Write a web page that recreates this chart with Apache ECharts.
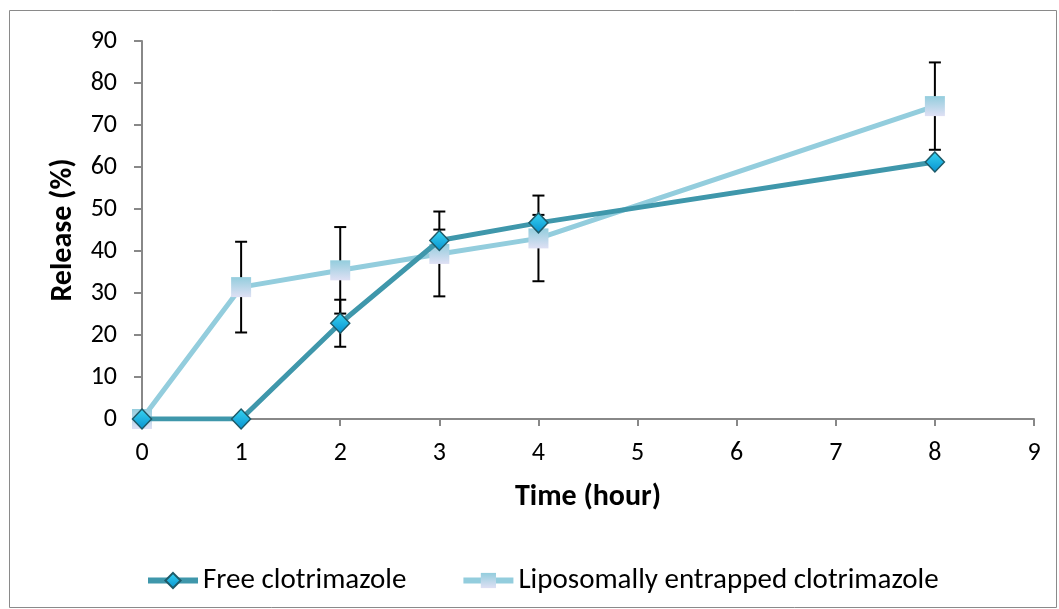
<!DOCTYPE html>
<html>
<head>
<meta charset="utf-8">
<script src="https://cdn.jsdelivr.net/npm/echarts@6/dist/echarts.min.js"></script>
<style>
html,body{margin:0;padding:0;background:#fff;}
#c{width:1059px;height:609px;}
</style>
</head>
<body>
<div id="c"></div>
<script>
var timeHours = [0, 1, 2, 3, 4, 8];
var freeRelease = [0, 0, 22.8, 42.5, 46.7, 61.2];
var freeError = [0, 0, 5.6, 2.6, 1.9, 0];
var lipoRelease = [0, 31.4, 35.4, 39.3, 43.0, 74.5];
var lipoError = [0, 10.8, 10.3, 10.1, 10.2, 10.4];
var seriesNames = ['Free clotrimazole', 'Liposomally entrapped clotrimazole'];
var xTicks = [0, 1, 2, 3, 4, 5, 6, 7, 8, 9];
var yTicks = [0, 10, 20, 30, 40, 50, 60, 70, 80, 90];

var FONT = "Carlito, Lato, 'Open Sans', sans-serif";

function pairs(xs, ys) { return xs.map(function (x, i) { return [x, ys[i]]; }); }
function errData(xs, ys, es) {
  var out = [];
  xs.forEach(function (x, i) { if (es[i] > 0) out.push([x, ys[i] - es[i], ys[i] + es[i]]); });
  return out;
}
function errRender(params, api) {
  var x = api.value(0);
  var lo = api.coord([x, api.value(1)]);
  var hi = api.coord([x, api.value(2)]);
  var w = 6;
  var st = { stroke: '#000', lineWidth: 2 };
  return {
    type: 'group',
    children: [
      { type: 'line', shape: { x1: lo[0], y1: lo[1], x2: hi[0], y2: hi[1] }, style: st },
      { type: 'line', shape: { x1: lo[0] - w, y1: lo[1], x2: lo[0] + w, y2: lo[1] }, style: st },
      { type: 'line', shape: { x1: hi[0] - w, y1: hi[1], x2: hi[0] + w, y2: hi[1] }, style: st }
    ]
  };
}

var diamondFill = new echarts.graphic.LinearGradient(0, 0, 0, 1, [
  { offset: 0, color: '#3ad6f2' }, { offset: 1, color: '#0690cf' }
]);
var squareFill = new echarts.graphic.LinearGradient(0, 0, 0, 1, [
  { offset: 0, color: '#93cddd' }, { offset: 1, color: '#dfe0f4' }
]);

var chart = echarts.init(document.getElementById('c'), null, { renderer: 'canvas' });
chart.setOption({
  animation: false,
  backgroundColor: '#fff',
  textStyle: { fontFamily: FONT },
  graphic: [{
    type: 'rect', silent: true, z: -10,
    shape: { x: 9.5, y: 10.5, width: 1047, height: 597 },
    style: { fill: 'none', stroke: '#8a8a8a', lineWidth: 1 }
  }],
  grid: { left: 142, right: 25, top: 41, bottom: 190, containLabel: false },
  legend: {
    left: 140, top: 561,
    itemWidth: 50, itemHeight: 19, itemGap: 54,
    lineStyle: { width: 6 },
    textStyle: { fontFamily: FONT, fontSize: 29, color: '#000' },
    data: seriesNames
  },
  xAxis: {
    type: 'value', min: 0, max: 9, interval: 1,
    name: 'Time (hour)', nameLocation: 'middle', nameGap: 63,
    nameTextStyle: { fontFamily: FONT, fontSize: 30, fontWeight: 'bold', color: '#000' },
    axisLine: { show: true, lineStyle: { color: '#888', width: 2 } },
    axisTick: { show: true, inside: false, length: 7, lineStyle: { color: '#888', width: 2 } },
    axisLabel: { fontFamily: FONT, fontSize: 26, color: '#000', margin: 21,
      formatter: function (v) { return xTicks.indexOf(v) >= 0 ? String(v) : ''; } },
    splitLine: { show: false }
  },
  yAxis: {
    type: 'value', min: 0, max: 90, interval: 10,
    name: 'Release (%)', nameLocation: 'middle', nameGap: 64, nameRotate: 90,
    nameTextStyle: { fontFamily: FONT, fontSize: 30, fontWeight: 'bold', color: '#000' },
    axisLine: { show: true, lineStyle: { color: '#888', width: 2 } },
    axisTick: { show: true, inside: false, length: 8, lineStyle: { color: '#888', width: 2 } },
    axisLabel: { fontFamily: FONT, fontSize: 26, color: '#000', margin: 25,
      formatter: function (v) { return yTicks.indexOf(v) >= 0 ? String(v) : ''; } },
    splitLine: { show: false }
  },
  series: [
    {
      name: seriesNames[1], type: 'line', z: 3,
      data: pairs(timeHours, lipoRelease),
      symbol: 'rect', symbolSize: 20,
      lineStyle: { color: '#93cddd', width: 5 },
      itemStyle: { color: squareFill, borderWidth: 0 }
    },
    {
      name: seriesNames[0], type: 'line', z: 4,
      data: pairs(timeHours, freeRelease),
      symbol: 'diamond', symbolSize: [19, 20],
      lineStyle: { color: '#3f97ab', width: 5 },
      itemStyle: { color: diamondFill, borderColor: '#1e5a68', borderWidth: 1.5 }
    },
    {
      type: 'custom', z: 2, silent: true,
      renderItem: errRender,
      data: errData(timeHours, lipoRelease, lipoError)
    },
    {
      type: 'custom', z: 2, silent: true,
      renderItem: errRender,
      data: errData(timeHours, freeRelease, freeError)
    }
  ]
});
</script>
</body>
</html>
